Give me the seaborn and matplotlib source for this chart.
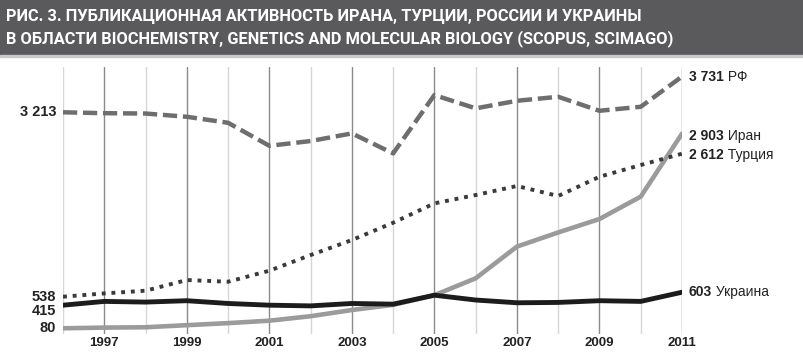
import pandas as pd
import matplotlib.pyplot as plt
import seaborn as sns
from matplotlib import font_manager

# Данные (Scopus, SCImago)
years = list(range(1996, 2012))
russia = [3213, 3200, 3195, 3148, 3061, 2727, 2796, 2907, 2617, 3463, 3270, 3380, 3438, 3235, 3293, 3731]
turkey = [538, 586, 625, 780, 755, 915, 1142, 1360, 1611, 1892, 2013, 2144, 1999, 2278, 2448, 2612]
iran = [80, 90, 95, 125, 155, 190, 255, 345, 420, 560, 805, 1265, 1470, 1665, 1990, 2903]
ukraine = [415, 470, 460, 480, 440, 415, 405, 440, 430, 560, 490, 450, 455, 480, 470, 603]

names = ["РФ", "Турция", "Иран", "Украина"]
tick_years = [1997, 1999, 2001, 2003, 2005, 2007, 2009, 2011]
title = ("РИС. 3. ПУБЛИКАЦИОННАЯ АКТИВНОСТЬ ИРАНА, ТУРЦИИ, РОССИИ И УКРАИНЫ\n"
         "В ОБЛАСТИ BIOCHEMISTRY, GENETICS AND MOLECULAR BIOLOGY (SCOPUS, SCIMAGO)")

df = pd.DataFrame({"Год": years, "РФ": russia, "Турция": turkey, "Иран": iran, "Украина": ukraine})

sns.set_style("white")
plt.rcParams["font.family"] = ["Liberation Sans", "DejaVu Sans"]

avail = {f.name for f in font_manager.fontManager.ttflist}
title_font = "Liberation Sans Narrow" if "Liberation Sans Narrow" in avail else "Roboto"

fig = plt.figure(figsize=(8.04, 3.54), dpi=100)

# Тёмная плашка заголовка
fig.patches.append(plt.Rectangle((0, 1 - 55 / 354), 1, 55 / 354, transform=fig.transFigure,
                                 color="#5a5a5c", zorder=0))
fig.patches.append(plt.Rectangle((0, 1 - 57 / 354), 1, 2 / 354, transform=fig.transFigure,
                                 color="#c8c8c8", zorder=0))
fig.text(6 / 804, 1 - 28 / 354, title, color="white", fontsize=11.8, fontweight="bold",
         family=[title_font, "DejaVu Sans"], va="center", ha="left", linespacing=1.5)

ax = fig.add_axes([63 / 804, (354 - 333.8) / 354, (682 - 63) / 804, (333.8 - 67) / 354])
ax.set_xlim(1996, 2011)
ax.set_ylim(0, 3870)
ax.set_facecolor("none")

for y in years:
    ax.axvline(y, color="#8a8a8a" if y % 2 else "#d6d6d6", lw=1, zorder=0)

sns.lineplot(data=df, x="Год", y="Иран", ax=ax, color="#9b9b9d", lw=3.3, zorder=2)
sns.lineplot(data=df, x="Год", y="Украина", ax=ax, color="#1c1c1c", lw=3.5, zorder=3)
sns.lineplot(data=df, x="Год", y="Турция", ax=ax, color="#3a3a3c", lw=2.8,
             linestyle=(0, (1.0, 1.5)), zorder=4)
sns.lineplot(data=df, x="Год", y="РФ", ax=ax, color="#6e6e70", lw=3.2,
             linestyle=(0, (3.2, 1.3)), zorder=4)

for s in ax.spines.values():
    s.set_visible(False)
ax.set_xlabel("")
ax.set_ylabel("")
ax.set_yticks([])
ax.set_xticks(tick_years)
ax.set_xticklabels([str(y) for y in tick_years], fontweight="bold", fontsize=9.5, color="#222222")
ax.tick_params(axis="x", length=0, pad=2)

# Подписи слева
left = [(russia[0], 0), (turkey[0], 0), (ukraine[0], -4.5), (iran[0], 0)]
for val, dy in left:
    ax.annotate(f"{val:,}".replace(",", " "), xy=(1996, val), xytext=(-5, dy),
                textcoords="offset points", ha="right", va="center",
                fontsize=10.5, fontweight="bold", color="#222222", annotation_clip=False)

# Подписи справа
right = [(russia[-1], "РФ", 0), (iran[-1], "Иран", -1.5), (turkey[-1], "Турция", -1), (ukraine[-1], "Украина", 0)]
for val, name, dy in right:
    t = ax.annotate(f"{val:,}".replace(",", " "), xy=(2011, val), xytext=(5, dy),
                    textcoords="offset points", ha="left", va="center",
                    fontsize=10, fontweight="bold", color="#222222", annotation_clip=False)
    ax.annotate(" " + name, xy=(1, 0.5), xycoords=t, ha="left", va="center",
                fontsize=10, color="#222222", annotation_clip=False)

fig.savefig("out.png", dpi=100)
